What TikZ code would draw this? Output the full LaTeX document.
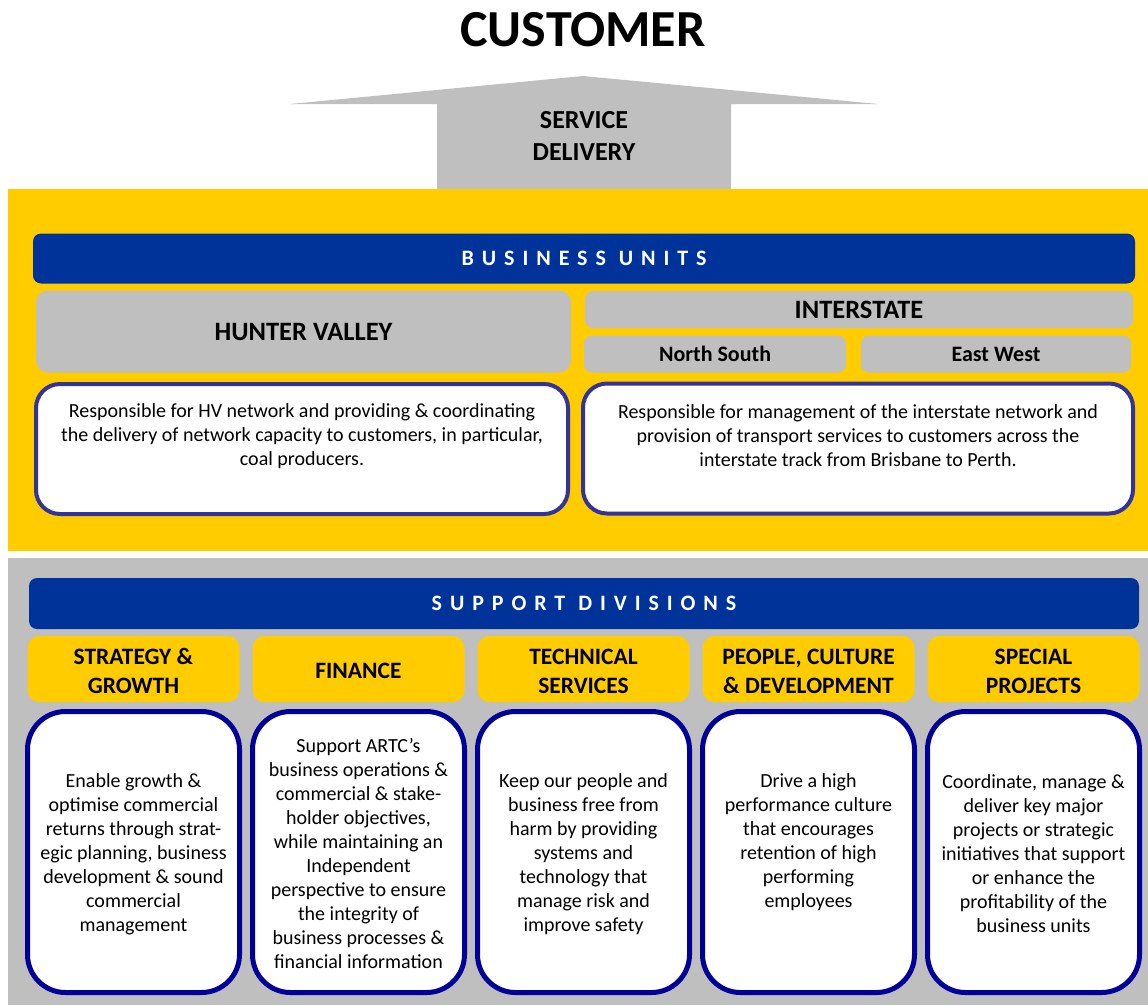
\documentclass[tikz,border=0pt]{standalone}
\usepackage{fontspec}
\setmainfont{Carlito}
\definecolor{artcyellow}{HTML}{FFCC00}
\definecolor{artcblue}{HTML}{003399}
\definecolor{panelgray}{HTML}{BFBFBF}
\definecolor{unitborder}{HTML}{333399}
\definecolor{divborder}{HTML}{000099}
\begin{document}
\begin{tikzpicture}[x=1pt,y=-1pt,
  bar/.style={fill=artcblue, rounded corners=8pt, inner sep=0pt, text=white,
    font=\fontsize{22}{26}\selectfont\bfseries\addfontfeature{LetterSpace=36}},
  unitbox/.style={fill=panelgray, rounded corners=12pt, inner sep=0pt},
  subbox/.style={fill=panelgray, rounded corners=8pt, inner sep=0pt},
  unitdesc/.style={draw=unitborder, line width=4pt, fill=white, rounded corners=24pt,
    minimum height=130pt, inner sep=0pt},
  bodytext/.style={align=center, inner sep=0pt, font=\fontsize{20}{24}\selectfont},
  headbox/.style={fill=artcyellow, rounded corners=12pt, minimum width=212pt,
    minimum height=66pt, inner sep=0pt},
  headtext/.style={align=center, inner sep=0pt, font=\fontsize{23.5}{29}\selectfont\bfseries},
  divbox/.style={draw=divborder, line width=5pt, fill=white, rounded corners=38pt,
    minimum width=212pt, minimum height=281pt, inner sep=0pt},
]
\useasboundingbox (0,0) rectangle (1148,1005);
\fill[white] (0,0) rectangle (1148,1005);

% title and service delivery arrow
\node[font=\fontsize{52}{60}\selectfont\bfseries, inner sep=0pt] (customer) at (583,30) {CUSTOMER};
\fill[panelgray] (290,104) -- (583,76) -- (878,104) -- (731,104) -- (731,192)
  -- (437,192) -- (437,104) -- cycle;
\node[align=center, inner sep=0pt, font=\fontsize{26}{32}\selectfont\bfseries]
  (service) at (584,136) {SERVICE\\DELIVERY};

% business units panel
\fill[artcyellow] (8,189) rectangle (1148,551);
\node[bar, minimum width=1102pt, minimum height=50pt] (bu) at (584,258.5) {BUSINESS UNITS};
\node[unitbox, minimum width=535pt, minimum height=82pt,
  font=\fontsize{26.5}{30}\selectfont\bfseries] (hv) at (303.5,331.5) {HUNTER VALLEY};
\node[subbox, minimum width=548pt, minimum height=37pt,
  font=\fontsize{26.5}{30}\selectfont\bfseries] (is) at (859,309.5) {INTERSTATE};
\node[subbox, minimum width=262pt, minimum height=37pt,
  font=\fontsize{22}{26}\selectfont\bfseries] (ns) at (715,354) {North South};
\node[subbox, minimum width=270pt, minimum height=37pt,
  font=\fontsize{22}{26}\selectfont\bfseries] (ew) at (996,354) {East West};
\node[unitdesc, minimum width=532pt] (hvd) at (302,449) {};
\node[unitdesc, minimum width=550pt] (isd) at (858,448.5) {};
\node[bodytext] (hvt) at (302,436) {Responsible for HV network and providing \& coordinating\\
  the delivery of network capacity to customers, in particular,\\coal producers.};
\node[bodytext] (ist) at (858,436) {Responsible for management of the interstate network and\\
  provision of transport services to customers across the\\
  interstate track from Brisbane to Perth.};

% support divisions panel
\fill[panelgray] (8,558) rectangle (1148,1005);
\node[bar, minimum width=1110pt, minimum height=51pt] (sd) at (584,603.5) {SUPPORT DIVISIONS};

\foreach \i/\cx in {1/133.5, 2/358.5, 3/583.5, 4/808.5, 5/1033.5} {
  \node[headbox] (h\i) at (\cx,669) {};
  \node[divbox] (d\i) at (\cx,852) {};
}
\node[headtext] (h1t) at ([yshift=-2pt]h1.center) {STRATEGY \&\\GROWTH};
\node[headtext] (h2t) at ([yshift=-2pt]h2.center) {FINANCE};
\node[headtext] (h3t) at ([yshift=-2pt]h3.center) {TECHNICAL\\SERVICES};
\node[headtext] (h4t) at ([yshift=-2pt]h4.center) {PEOPLE, CULTURE\\\& DEVELOPMENT};
\node[headtext] (h5t) at ([yshift=-2pt]h5.center) {SPECIAL\\PROJECTS};

\node[bodytext] (d1t) at ([yshift=-2pt]d1.center) {Enable growth \&\\optimise commercial\\
  returns through strat-\\egic planning, business\\development \& sound\\commercial\\management};
\node[bodytext] (d2t) at ([yshift=-2pt]d2.center) {Support ARTC’s\\business operations \&\\
  commercial \& stake-\\holder objectives,\\while maintaining an\\Independent\\
  perspective to ensure\\the integrity of\\business processes \&\\financial information};
\node[bodytext] (d3t) at ([yshift=-2pt]d3.center) {Keep our people and\\business free from\\
  harm by providing\\systems and\\technology that\\manage risk and\\improve safety};
\node[bodytext] (d4t) at ([yshift=10pt]d4.center) {Drive a high\\performance culture\\
  that encourages\\retention of high\\performing\\employees};
\node[bodytext] (d5t) at ([yshift=-2pt]d5.center) {Coordinate, manage \&\\deliver key major\\
  projects or strategic\\initiatives that support\\or enhance the\\profitability of the\\business units};
\end{tikzpicture}
\end{document}
